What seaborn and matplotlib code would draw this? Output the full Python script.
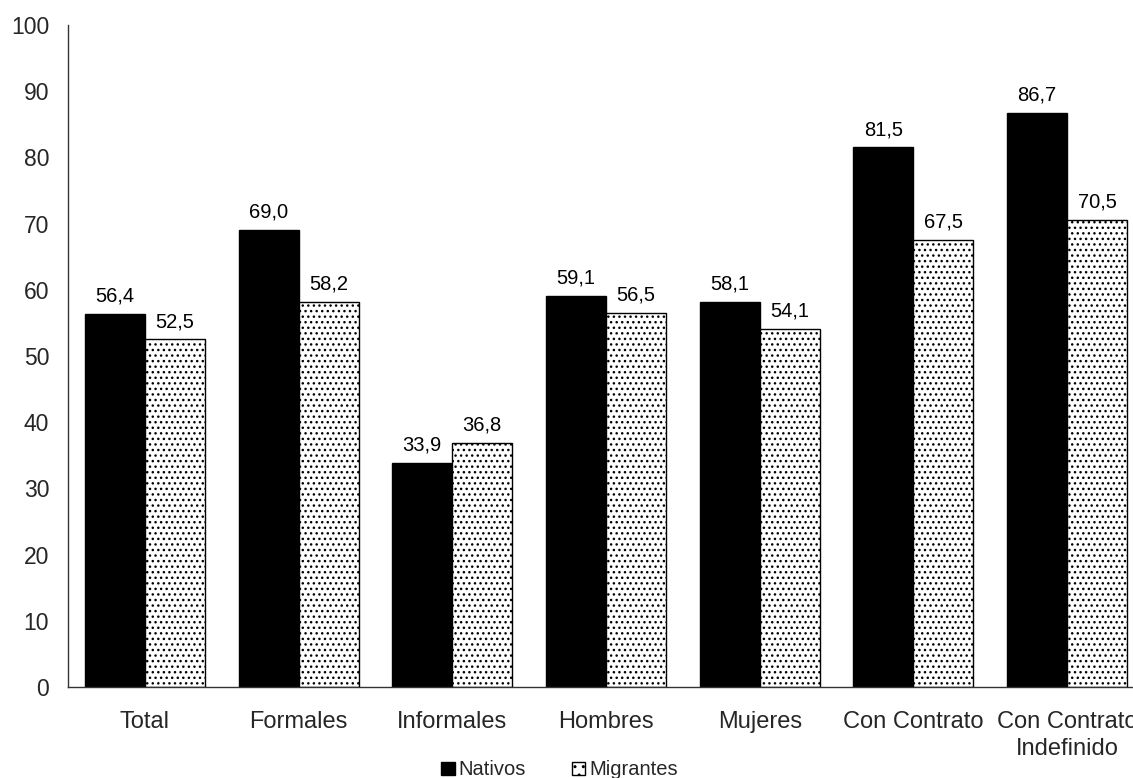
import matplotlib
matplotlib.use("Agg")
import matplotlib.pyplot as plt
from matplotlib.patches import Patch
import seaborn as sns
import pandas as pd

categories = ["Total", "Formales", "Informales", "Hombres", "Mujeres",
              "Con Contrato", "Con Contrato\nIndefinido"]
nativos = [56.4, 69.0, 33.9, 59.1, 58.1, 81.5, 86.7]
migrantes = [52.5, 58.2, 36.8, 56.5, 54.1, 67.5, 70.5]
series_names = ["Nativos", "Migrantes"]
yticks = list(range(0, 101, 10))

df = pd.DataFrame({
    "categoria": categories * 2,
    "valor": nativos + migrantes,
    "grupo": [series_names[0]] * len(categories) + [series_names[1]] * len(categories),
})

sns.set_style("white")
plt.rcParams["font.family"] = ["Liberation Sans", "DejaVu Sans"]
plt.rcParams["hatch.color"] = "#555555"
plt.rcParams["hatch.linewidth"] = 1.0

fig = plt.figure(figsize=(11.33, 7.78), dpi=100)
# The plot area runs slightly past the right edge of the canvas
ax = fig.add_axes([0.060, 0.117, 0.9497, 0.851])

sns.barplot(data=df, x="categoria", y="valor", hue="grupo", order=categories,
            hue_order=series_names, palette=["black", "white"], width=0.78,
            edgecolor="black", linewidth=1.0, ax=ax, legend=False)

# Dotted fill for the second series, value labels on every bar
for cont, name in zip(ax.containers, series_names):
    if name == "Migrantes":
        for bar in cont:
            bar.set_hatch("...")
    vals = nativos if name == "Nativos" else migrantes
    ax.bar_label(cont, labels=[f"{v:.1f}".replace(".", ",") for v in vals],
                 padding=6, fontsize=14.5, color="black")

ax.set_xlim(-0.5, 6.5)
ax.set_ylim(0, 100)
ax.set_yticks(yticks)
ax.set_yticklabels([str(t) for t in yticks], fontsize=16.5)
ax.set_xticks(range(len(categories)))
ax.set_xticklabels(categories, fontsize=17, linespacing=1.3)
ax.tick_params(axis="x", length=0, pad=17)
ax.tick_params(axis="y", length=6, width=1, color="#333333", direction="out", pad=7.5)
# Boundary tick marks between groups
ax.set_xticks([i + 0.5 for i in range(-1, len(categories))], minor=True)
ax.tick_params(axis="x", which="minor", length=6, width=1, color="#777777", direction="out")
ax.set_xlabel("")
ax.set_ylabel("")
sns.despine(ax=ax)
for side in ("left", "bottom"):
    ax.spines[side].set_color("#333333")
    ax.spines[side].set_linewidth(1.0)

handles = [Patch(facecolor="black", edgecolor="black"),
           Patch(facecolor="white", edgecolor="black", hatch="..")]
fig.legend(handles, series_names, loc="lower center", bbox_to_anchor=(0.494, -0.025),
           ncol=2, frameon=False, fontsize=14.5, handlelength=0.65, handleheight=0.65,
           handletextpad=0.2, columnspacing=2.3)

fig.savefig("out.png", dpi=100)
